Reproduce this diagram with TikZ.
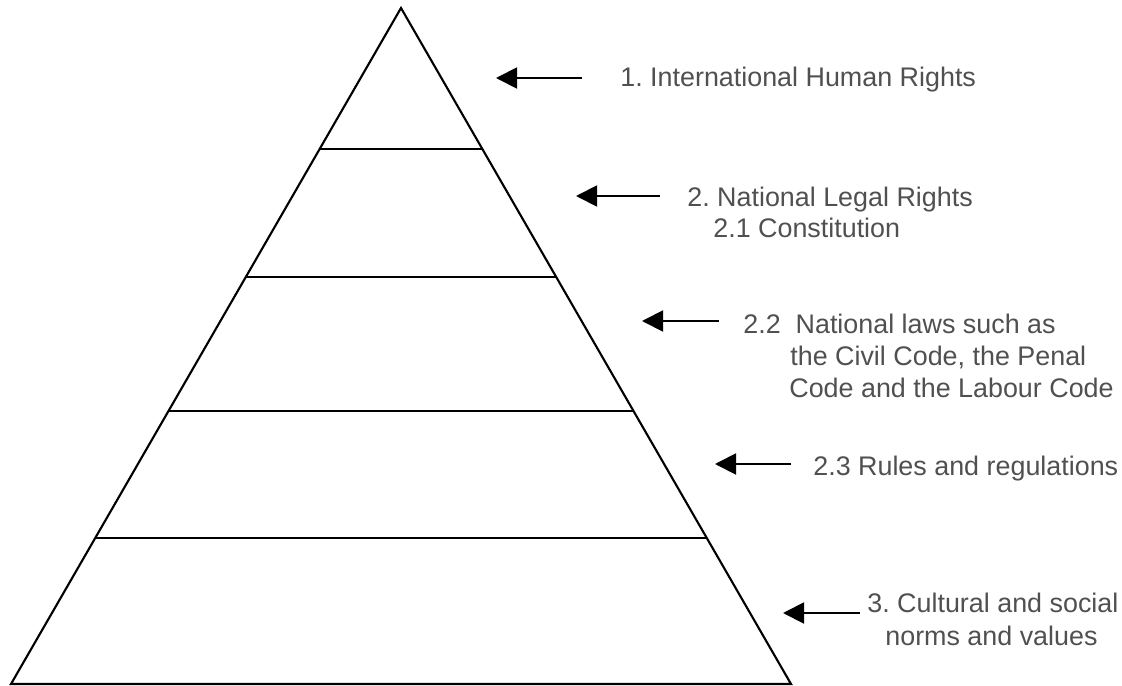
\documentclass[tikz,border=0pt]{standalone}
\usepackage{fontspec}
\setmainfont{Liberation Sans}
\usetikzlibrary{arrows.meta,calc}
\definecolor{labelgray}{RGB}{80,80,80}
\tikzset{
	level/.style={line width=1.2pt},
	pointer/.style={line width=1.1pt,-{Triangle[length=12pt,width=12pt]}},
	lbl/.style={anchor=base west,inner sep=0pt,text=labelgray,font=\fontsize{15.3}{18}\selectfont}
}
\frenchspacing

\begin{document}
\begin{tikzpicture}[x=0.02cm,y=-0.02cm]
			\useasboundingbox (0,0) rectangle (1122,686);
			
			% pyramid
			\coordinate (apex) at (401,8);
			\coordinate (bl) at (11,684);
			\coordinate (br) at (791,684);
			\draw[level,line join=miter] (bl) -- (apex) -- (br) -- cycle;
			\foreach \t in {0.2086,0.3979,0.5962,0.7840}
				\draw[level] ($(apex)!\t!(bl)$) -- ($(apex)!\t!(br)$);
			
			% labels
			\node[lbl] (l1) at (620,87) {1. International Human Rights};
			\node[lbl] (l2a) at (687,206) {2. National Legal Rights};
			\node[lbl] (l2b) at (713,237) {2.1 Constitution};
			\node[lbl] (l3a) at (743,333) {2.2\ \ National laws such as};
			\node[lbl] (l3b) at (790,365) {the Civil Code, the Penal};
			\node[lbl] (l3c) at (789,397) {Code and the Labour Code};
			\node[lbl] (l4) at (813,475) {2.3 Rules and regulations};
			\node[lbl] (l5a) at (867,612) {3. Cultural and social};
			\node[lbl] (l5b) at (885,645) {norms and values};
			
			% arrows
			\coordinate (t1) at (582,78);  \coordinate (h1) at (496,78);
			\coordinate (t2) at (660,196); \coordinate (h2) at (576,196);
			\coordinate (t3) at (719,321); \coordinate (h3) at (642,321);
			\coordinate (t4) at (791,464); \coordinate (h4) at (715,464);
			\coordinate (t5) at (860,613); \coordinate (h5) at (783,613);
			\foreach \i in {1,...,5}
				\draw[pointer] (t\i) -- (h\i);
			
\end{tikzpicture}
\end{document}
